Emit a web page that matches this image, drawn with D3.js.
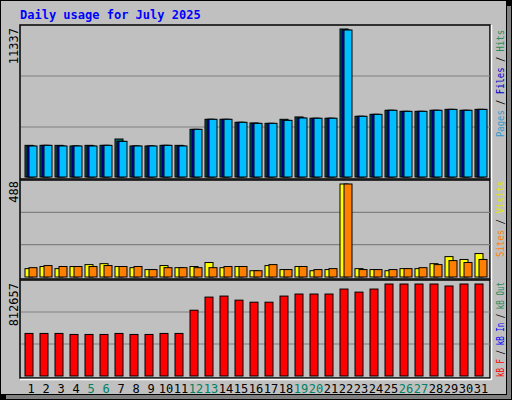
<!DOCTYPE html>
<html><head><meta charset="utf-8">
<script src="https://cdn.jsdelivr.net/npm/d3@7/dist/d3.min.js"></script>
<style>body{margin:0;background:#fff}svg{display:block}text{font-family:"DejaVu Sans Mono",monospace}</style>
</head><body><svg id="c" width="512" height="400"></svg>
<script>
const days = d3.range(1,32).map(String);
const weekend = ["5","6","12","13","19","20","26","27"];
const pages = [2375,2425,2375,2375,2375,2425,2730,2375,2375,2425,2375,3650,4420,4420,4190,4110,4110,4340,4520,4500,4500,11260,4650,4800,5110,5030,5030,5110,5180,5110,5180];
const files = [2375,2425,2375,2375,2375,2425,2730,2375,2375,2425,2375,3650,4420,4420,4190,4110,4110,4340,4520,4500,4500,11260,4650,4800,5110,5030,5030,5110,5180,5110,5180];
const hits  = [2425,2425,2425,2375,2425,2425,2910,2375,2375,2425,2425,3650,4420,4420,4190,4140,4110,4420,4600,4500,4500,11337,4650,4800,5110,5030,5030,5110,5180,5110,5180];
const visits = [44,55,44,55,65,70,55,49,39,60,49,55,76,49,55,33,60,39,55,33,39,488,44,39,33,44,44,70,107,92,123];
const sites  = [49,60,55,55,55,60,55,55,39,49,49,49,49,55,55,33,65,39,55,39,44,488,39,39,39,44,49,65,86,76,92];
const kbf = [376000,376000,376000,367000,367000,367000,376000,367000,367000,376000,376000,581000,697000,706000,670000,652000,652000,706000,724000,724000,724000,768000,741000,768000,812657,812657,812657,812657,795000,812657,812657];
const maxHits = 11337, maxVisits = 488, maxKb = 812657;

const svg = d3.select("#c");
svg.append("rect").attr("width",512).attr("height",400).attr("fill","#000");
svg.append("rect").attr("x",1).attr("y",1).attr("width",505).attr("height",393).attr("fill","#c0c0c0");
svg.append("rect").attr("x",507).attr("y",6).attr("width",4).attr("height",393).attr("fill","#808080");
svg.append("rect").attr("x",6).attr("y",395).attr("width",505).attr("height",4).attr("fill","#808080");

svg.append("text").attr("x",20).attr("y",19).attr("fill","#0000ff").attr("font-weight","bold").attr("font-size",12).text("Daily usage for July 2025");

const x = d3.scaleBand().domain(days).range([20,485]).paddingInner(0).paddingOuter(0);
const x0 = d => x(d)+5;

function panel(top,bottom){
  svg.append("rect").attr("x",20).attr("y",top).attr("width",470).attr("height",bottom-top).attr("fill","#c0c0c0").attr("stroke","#000").attr("stroke-width",1.5);
  svg.append("line").attr("x1",20).attr("x2",491).attr("y1",bottom+1.5).attr("y2",bottom+1.5).attr("stroke","#fff").attr("stroke-width",1.5);
  svg.append("line").attr("x1",491.5).attr("x2",491.5).attr("y1",top).attr("y2",bottom+2).attr("stroke","#fff").attr("stroke-width",1.5);
}
function grid(y0,y1){
  const s = (y1-y0)/3;
  [1,2].forEach(k=>svg.append("line").attr("x1",21).attr("x2",490).attr("y1",y0+k*s).attr("y2",y0+k*s).attr("stroke","#808080").attr("stroke-width",1.2));
}
function bars(vals,scale,off,color){
  svg.append("g").selectAll("rect").data(vals).join("rect")
   .attr("x",(v,i)=>x0(days[i])+off).attr("y",v=>scale(v)).attr("width",8)
   .attr("height",v=>scale(0)-scale(v)).attr("fill",color).attr("stroke","#000").attr("stroke-width",1);
}
function rlabel(xp,yTop,yBot,parts){
  const t = svg.append("text").attr("transform",`translate(${xp},${yBot}) rotate(-90)`).attr("text-anchor","start").attr("font-size",11)
    .attr("textLength",yBot-yTop).attr("lengthAdjust","spacingAndGlyphs");
  parts.forEach(p=>t.append("tspan").attr("fill",p[1]).text(p[0]));
}
function llabel(yEnd,txt){
  svg.append("text").attr("transform",`translate(18,${yEnd}) rotate(-90)`).attr("text-anchor","end").attr("font-size",12).attr("fill","#000").text(txt);
}

// Panel 1
panel(25,179);
grid(25,178);
const y1 = d3.scaleLinear().domain([0,maxHits]).range([177,29]);
bars(hits,y1,0,"#006b5b");
bars(files,y1,2,"#0000ff");
bars(pages,y1,4,"#00bfff");
llabel(28,"11337");
rlabel(504,30,137,[["Pages","#3399cc"],[" / ","#000"],["Files","#0000cc"],[" / ","#000"],["Hits","#2e8b57"]]);

// Panel 2
panel(180,279);
grid(180,277);
const y2 = d3.scaleLinear().domain([0,maxVisits]).range([277,184]);
bars(visits,y2,0,"#ffff00");
bars(sites,y2,4,"#ff8000");
llabel(181,"488");
rlabel(504,181,257,[["Sites","#ff8000"],[" / ","#000"],["Visits","#e6e600"]]);

// Panel 3
panel(280,378);
grid(280,376);
const y3 = d3.scaleLinear().domain([0,maxKb]).range([376,284]);
bars(kbf,y3,0,"#ff0000");
llabel(283,"812657");
rlabel(504,282,377,[["kB F","#ff0000"],[" / ","#000"],["kB In","#0000ff"],[" / ","#000"],["kB Out","#2e8b57"]]);

// x labels
svg.append("g").selectAll("text").data(days).join("text")
  .attr("x",d=>x0(d)+6).attr("y",393).attr("text-anchor","middle").attr("font-size",12)
  .attr("fill",d=>weekend.includes(d)?"#008060":"#000").text(d=>d);
</script></body></html>
